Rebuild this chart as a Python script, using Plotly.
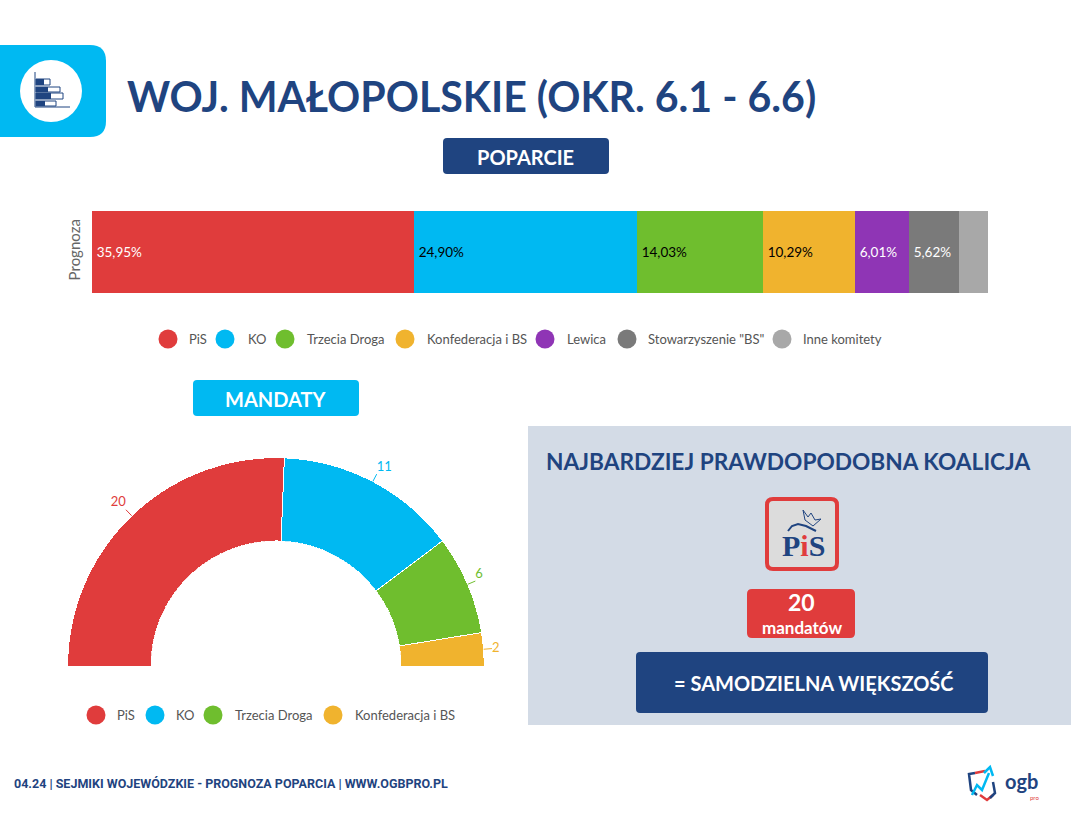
import numpy as np
import plotly.graph_objects as go

W, H = 1071, 813

# poparcie
parties = ["PiS", "KO", "Trzecia Droga", "Konfederacja i BS", "Lewica", 'Stowarzyszenie "BS"', "Inne komitety"]
support = [35.95, 24.90, 14.03, 10.29, 6.01, 5.62, 3.20]
support_labels = ["35,95%", "24,90%", "14,03%", "10,29%", "6,01%", "5,62%", ""]
label_colors = ["white", "black", "black", "black", "white", "white", "white"]
colors = ["#e03c3c", "#00b9f2", "#6fbe2e", "#f0b32e", "#8f35b5", "#7a7a7a", "#a8a8a8"]

# mandaty
seat_parties = ["PiS", "KO", "Trzecia Droga", "Konfederacja i BS"]
seats = [20, 11, 6, 2]

NAVY = "#1f4480"
CYAN = "#00b9f2"
RED = "#e03c3c"
FONT = "Lato"


def px(x):
    return x / W


def py(y):
    return 1 - y / H


def rrect(x0, y0, x1, y1, r, fill, line=None, lw=0):
    p = (f"M{px(x0 + r)},{py(y0)} L{px(x1 - r)},{py(y0)} Q{px(x1)},{py(y0)} {px(x1)},{py(y0 + r)} "
         f"L{px(x1)},{py(y1 - r)} Q{px(x1)},{py(y1)} {px(x1 - r)},{py(y1)} L{px(x0 + r)},{py(y1)} "
         f"Q{px(x0)},{py(y1)} {px(x0)},{py(y1 - r)} L{px(x0)},{py(y0 + r)} Q{px(x0)},{py(y0)} {px(x0 + r)},{py(y0)} Z")
    return dict(type="path", xref="paper", yref="paper", path=p, fillcolor=fill, layer="below",
                line=dict(color=line or fill, width=lw))


def box(x0, y0, x1, y1, fill, line=None, lw=0, layer="above"):
    return dict(type="rect", xref="paper", yref="paper", x0=px(x0), x1=px(x1), y0=py(y0), y1=py(y1),
                fillcolor=fill, line=dict(color=line or fill, width=lw), layer=layer)


def poly(points, color, lw=2):
    p = "M" + " L".join(f"{px(a)},{py(b)}" for a, b in points)
    return dict(type="path", xref="paper", yref="paper", path=p, line=dict(color=color, width=lw))


def circle(cx, cy, r, fill):
    return dict(type="circle", xref="paper", yref="paper", x0=px(cx - r), x1=px(cx + r),
                y0=py(cy + r), y1=py(cy - r), fillcolor=fill, line_width=0)


def label(x, y, s, size, color, bold=False, family=FONT, anchor="center"):
    return dict(xref="paper", yref="paper", x=px(x), y=py(y), text=f"<b>{s}</b>" if bold else s,
                showarrow=False, xanchor=anchor, yanchor="middle",
                font=dict(family=family, size=size, color=color))


fig = go.Figure()

# pasek poparcia
for name, v, txt, tc, c in zip(parties, support, support_labels, label_colors, colors):
    fig.add_trace(go.Bar(y=["Prognoza"], x=[v], orientation="h", name=name, text=[txt],
                         texttemplate="\u2009%{text}",
                         textposition="inside", insidetextanchor="start", textangle=0,
                         textfont=dict(family=FONT, size=13.5, color=tc), marker=dict(color=c, line_width=0),
                         showlegend=False, hoverinfo="name+x"))

# polkole mandatow
total = sum(seats)
ends = np.cumsum(seats)
starts = ends - np.array(seats)
mids = 180 - (starts + ends) / 2 * 180 / total
widths = np.array(seats) * 180 / total
for name, m, w, c in zip(seat_parties, mids, widths, colors):
    fig.add_trace(go.Barpolar(r=[1], theta=[m], width=[w], name=name, showlegend=False,
                              marker=dict(color=c, line=dict(color="white", width=1))))
positions = ["top left", "top right", "top right", "middle right"]
for s, m, c, pos in zip(seats, mids, colors, positions):
    fig.add_trace(go.Scatterpolar(r=[1, 1.1], theta=[m, m], mode="lines+text", text=["", str(s)],
                                  textposition=pos, cliponaxis=False, showlegend=False, hoverinfo="skip",
                                  line=dict(color=c, width=1),
                                  textfont=dict(family=FONT, size=13, color=c)))

shapes = [
    # ikona
    rrect(-20, 45, 106, 137, 16, CYAN),
    circle(51, 91, 31, "white"),
    poly([(35, 72), (35, 107), (70, 107)], NAVY, 1),
    # panel
    box(528, 426, 1071, 725, "#d3dbe6", layer="below"),
    rrect(443, 138, 609, 174, 4, NAVY),
    rrect(193, 380, 359, 416, 4, CYAN),
    rrect(747, 589, 855, 638, 5, RED),
    rrect(636, 652, 988, 713, 4, NAVY),
    rrect(767, 499, 837, 569, 6, "#dcdcdc", RED, 4),
    # korona i orzel
    poly([(803, 510), (805, 520), (813, 526), (821, 519), (815, 520), (811, 513), (808, 517), (803, 510)], NAVY, 1),
    poly([(788, 531), (792, 526), (798, 524), (806, 526), (816, 531)], NAVY, 2),
    # logo ogb
    poly([(975, 773), (969, 774), (971, 790), (977, 795)], NAVY, 2.5),
    poly([(975, 773), (985, 771)], RED, 2.5),
    poly([(980, 795), (987, 800), (993, 795)], RED, 2.5),
    poly([(993, 782), (995, 793), (990, 798)], NAVY, 2.5),
    poly([(972, 795), (977, 785), (982, 790), (989, 773)], CYAN, 2.5),
    poly([(984, 773), (990, 767), (993, 776)], CYAN, 2.5),
]
for x1, x2, y0, y1 in [(44, 50, 79, 85), (48, 60, 87, 92), (51, 63, 93, 99), (45, 56, 101, 106)]:
    shapes.append(box(36, y0, x2, y1, "white", NAVY, 1))
    shapes.append(box(36, y0, x1, y1, NAVY))

annotations = [
    label(125, 96, "WOJ. MAŁOPOLSKIE (OKR. 6.1 - 6.6)", 41.1, NAVY, True, anchor="left"),
    label(525, 157, "POPARCIE", 20, "white", True),
    label(275, 399, "MANDATY", 20, "white", True),
    label(544, 461, "NAJBARDZIEJ PRAWDOPODOBNA KOALICJA", 22.7, NAVY, True, anchor="left"),
    label(803, 545, f'P<span style="color:{RED}">i</span>S', 30, NAVY, True, "Liberation Serif"),
    label(801, 602, "20", 23, "white", True),
    label(802, 627, "mandatów", 17, "white", True),
    label(814, 683, "= SAMODZIELNA WIĘKSZOŚĆ", 20, "white", True),
    label(12, 783, "04.24 | SEJMIKI WOJEWÓDZKIE - PROGNOZA POPARCIA | WWW.OGBPRO.PL", 12.5, NAVY, True, "Roboto", "left"),
    label(1003, 781, "ogb", 20, NAVY, True, anchor="left"),
    label(1028, 797, "pro", 6, RED, False, anchor="left"),
]

# legendy
for name, c, cx, tx in zip(parties, colors, [168, 225, 285, 405, 545, 627, 782], [188, 247, 306, 426, 566, 647, 802]):
    shapes.append(circle(cx, 339, 9.5, c))
    annotations.append(label(tx - 1, 339, name, 13, "#555555", anchor="left"))
for name, c, cx, tx in zip(seat_parties, colors, [96, 155, 213, 333], [116, 175, 234, 354]):
    shapes.append(circle(cx, 715, 9.5, c))
    annotations.append(label(tx - 1, 715, name, 13, "#555555", anchor="left"))

fig.update_layout(
    width=W, height=H, autosize=False,
    margin=dict(l=0, r=0, t=0, b=0),
    paper_bgcolor="white", plot_bgcolor="white",
    barmode="stack", bargap=0, showlegend=False,
    xaxis=dict(domain=[px(92), px(988)], range=[0, 100], visible=False),
    yaxis=dict(domain=[py(293), py(211)], type="category", tickangle=-90, ticks="", showline=False,
               ticklabelstandoff=8, tickfont=dict(family=FONT, size=15, color="#666666")),
    polar=dict(domain=dict(x=[px(26), px(526)], y=[py(666), py(416)]),
               sector=[0, 180], hole=0.5, bgcolor="rgba(0,0,0,0)",
               radialaxis=dict(visible=False, range=[0, 1.5]),
               angularaxis=dict(visible=False)),
    shapes=shapes,
    annotations=annotations,
)

fig.write_html("out.html", config=dict(displayModeBar=False), post_script="document.body.style.margin='0';")
